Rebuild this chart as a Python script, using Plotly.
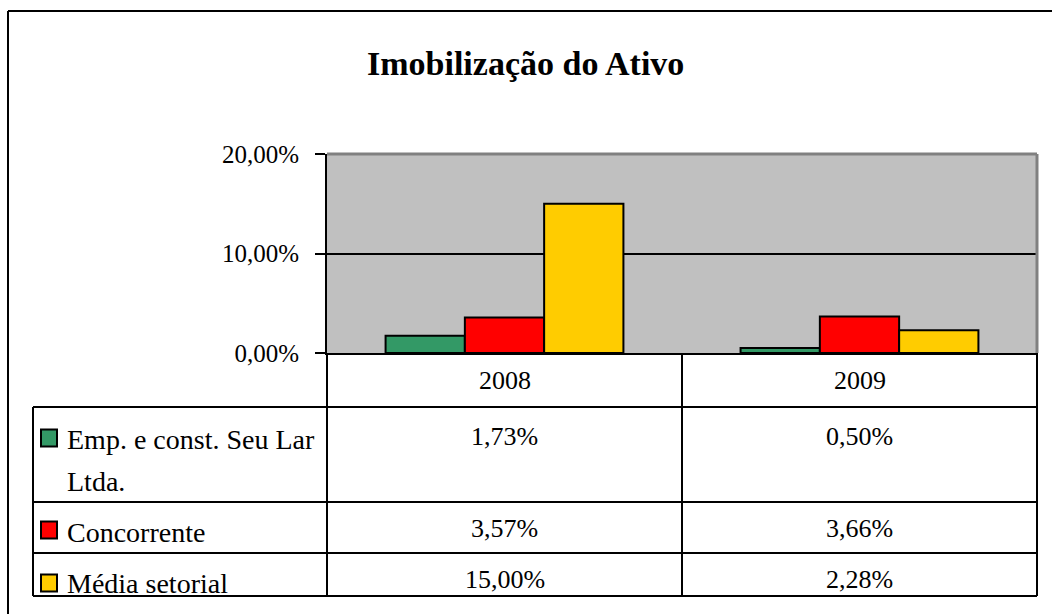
import plotly.graph_objects as go

# ---- data ----
categories = ["2008", "2009"]
series_names = ["Emp. e const. Seu Lar Ltda.", "Concorrente", "Média setorial"]
series_label_lines = [["Emp. e const. Seu Lar", "Ltda."], ["Concorrente"], ["Média setorial"]]
emp_values = [1.73, 0.50]
concorrente_values = [3.57, 3.66]
media_values = [15.00, 2.28]
y_tick_values = [0, 10, 20]
y_tick_labels = ["0,00%", "10,00%", "20,00%"]
title_text = "Imobilização do Ativo"

colors = ["#339966", "#FF0000", "#FFCC00"]
series_values = [emp_values, concorrente_values, media_values]

W, H = 1052, 614
FONT = "Liberation Serif"


def px(x):
    return x / W


def py(y):
    return 1 - y / H


def fmt(v):
    return f"{v:.2f}".replace(".", ",") + "%"


fig = go.Figure()
for name, vals, col in zip(series_names, series_values, colors):
    fig.add_trace(go.Bar(
        x=categories, y=vals, name=name,
        marker=dict(color=col, line=dict(color="black", width=2)),
    ))

plot_left, plot_right, plot_top, plot_bottom = 327, 1037, 154, 353

fig.update_layout(
    width=W, height=H, autosize=False,
    margin=dict(l=0, r=0, t=0, b=0, pad=0, autoexpand=False),
    paper_bgcolor="white",
    plot_bgcolor="#C0C0C0",
    showlegend=False,
    barmode="group",
    bargap=0.33,
    bargroupgap=0,
    font=dict(family=FONT, color="black"),
    xaxis=dict(
        type="category",
        categoryorder="array", categoryarray=categories,
        range=[-0.5, len(categories) - 0.5],
        domain=[px(plot_left), px(plot_right)],
        showticklabels=False, ticks="",
        showline=True, linecolor="black", linewidth=2,
        showgrid=False, zeroline=False, fixedrange=True, automargin=False,
    ),
    yaxis=dict(
        domain=[py(plot_bottom), py(plot_top)],
        range=[0, 20],
        tickvals=y_tick_values, ticktext=y_tick_labels,
        ticks="outside", ticklen=10, tickwidth=2, tickcolor="black",
        ticklabelstandoff=11,
        tickfont=dict(family=FONT, size=25, color="black"),
        showline=True, linecolor="black", linewidth=2,
        showgrid=True, gridcolor="black", gridwidth=2,
        zeroline=False, fixedrange=True, automargin=False,
    ),
)

shapes = []
# plot area top & right border (gray)
shapes.append(dict(type="line", xref="x domain", yref="y domain", x0=0, x1=1, y0=1, y1=1,
                   line=dict(color="#808080", width=3)))
shapes.append(dict(type="line", xref="x domain", yref="y domain", x0=1, x1=1, y0=0, y1=1,
                   line=dict(color="#808080", width=3)))

# outer chart border
shapes.append(dict(type="line", xref="paper", yref="paper", x0=px(8), x1=1, y0=py(11), y1=py(11),
                   line=dict(color="black", width=2)))
shapes.append(dict(type="line", xref="paper", yref="paper", x0=px(8), x1=px(8), y0=py(11), y1=0,
                   line=dict(color="black", width=2)))

# data table grid
table_left = 33
row_lines = [407, 502, 553, 596]
table_bottom = row_lines[-1]
lw = 2
for y in row_lines:
    shapes.append(dict(type="line", xref="paper", yref="paper", x0=px(table_left), x1=px(plot_right),
                       y0=py(y), y1=py(y), line=dict(color="black", width=lw)))
shapes.append(dict(type="line", xref="paper", yref="paper", x0=px(table_left), x1=px(table_left),
                   y0=py(row_lines[0]), y1=py(table_bottom), line=dict(color="black", width=lw)))
for xd in [0, 1]:
    shapes.append(dict(type="line", xref="x domain", yref="paper", x0=xd, x1=xd,
                       y0=py(plot_bottom), y1=py(table_bottom), line=dict(color="black", width=lw)))
# category separators (between adjacent categories on the category axis)
for k in range(len(categories) - 1):
    shapes.append(dict(type="line", xref="x", yref="paper", x0=k + 0.5, x1=k + 0.5,
                       y0=py(plot_bottom), y1=py(table_bottom), line=dict(color="black", width=lw)))

annotations = []
annotations.append(dict(text="<b>" + title_text + "</b>", xref="paper", yref="paper",
                        x=px(525), y=py(63), xanchor="center", yanchor="middle", showarrow=False,
                        font=dict(family=FONT, size=34, color="black")))

# header row (years) - positioned by category index on the category axis
for ci, c in enumerate(categories):
    annotations.append(dict(text=c, xref="x", yref="paper", x=ci, y=py(380),
                            xanchor="center", yanchor="middle", showarrow=False,
                            font=dict(family=FONT, size=26, color="black")))

label_y = [439, 532, 583]
value_y = [436, 528, 579]
key_y = [438, 530, 583]
for i, (lines, vals, col) in enumerate(zip(series_label_lines, series_values, colors)):
    yk = key_y[i]
    # legend key
    shapes.append(dict(type="rect", xref="paper", yref="paper",
                       x0=px(41), x1=px(57), y0=py(yk - 8.5), y1=py(yk + 8.5),
                       fillcolor=col, line=dict(color="black", width=2)))
    for j, line in enumerate(lines):
        annotations.append(dict(text=line, xref="paper", yref="paper", x=px(65),
                                y=py(label_y[i] + 42 * j),
                                xanchor="left", yanchor="middle", showarrow=False,
                                font=dict(family=FONT, size=28, color="black")))
    for ci, v in enumerate(vals):
        annotations.append(dict(text=fmt(v), xref="x", yref="paper", x=ci, y=py(value_y[i]),
                                xanchor="center", yanchor="middle", showarrow=False,
                                font=dict(family=FONT, size=26, color="black")))

fig.update_layout(shapes=shapes, annotations=annotations)

fig.write_html("out.html", config={"displayModeBar": False},
               post_script="document.body.style.margin='0';")
